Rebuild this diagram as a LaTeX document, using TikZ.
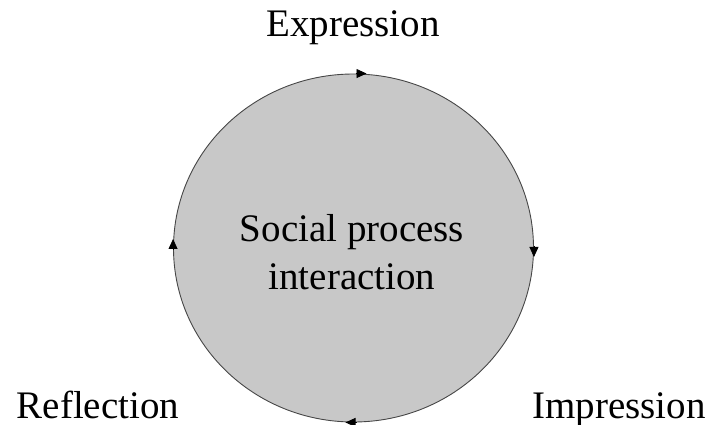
\documentclass[tikz,border=0pt]{standalone}
\usepackage{fontspec}
\setmainfont{Liberation Serif}
\usetikzlibrary{arrows.meta,shapes.geometric}
\definecolor{discgray}{RGB}{200,200,200}
\definecolor{edgegray}{RGB}{70,70,70}
\begin{document}
\begin{tikzpicture}[x=1pt,y=-1pt,
  lbl/.style={font=\fontsize{39}{48}\selectfont, inner sep=0pt, anchor=base},
  tip/.style={-{Triangle[length=10pt,width=9pt]}, black, line width=0.8pt}]
\useasboundingbox (0,0) rectangle (705,425);
\node[ellipse, draw=edgegray, line width=0.9pt, fill=discgray,
      minimum width=360pt, minimum height=348pt, inner sep=0pt] (c) at (353.5,248) {};
\node[lbl] (ex) at (353,37) {Expression};
\node[lbl] (sp) at (352,242) {Social process};
\node[lbl] (in) at (352,290) {interaction};
\node[lbl] (re) at (98,418) {Reflection};
\node[lbl] (im) at (619,418) {Impression};
\coordinate (t1) at ([xshift=2pt]c.north);
\coordinate (t2) at ([xshift=13pt]c.north);
\coordinate (r1) at ([yshift=2pt]c.east);
\coordinate (r2) at ([yshift=-9pt]c.east);
\coordinate (b1) at ([xshift=3pt]c.south);
\coordinate (b2) at ([xshift=-8pt]c.south);
\coordinate (l1) at ([yshift=-2pt]c.west);
\coordinate (l2) at ([yshift=9pt]c.west);
\draw[tip] (t1) -- (t2);
\draw[tip] (r1) -- (r2);
\draw[tip] (b1) -- (b2);
\draw[tip] (l1) -- (l2);
\end{tikzpicture}
\end{document}
